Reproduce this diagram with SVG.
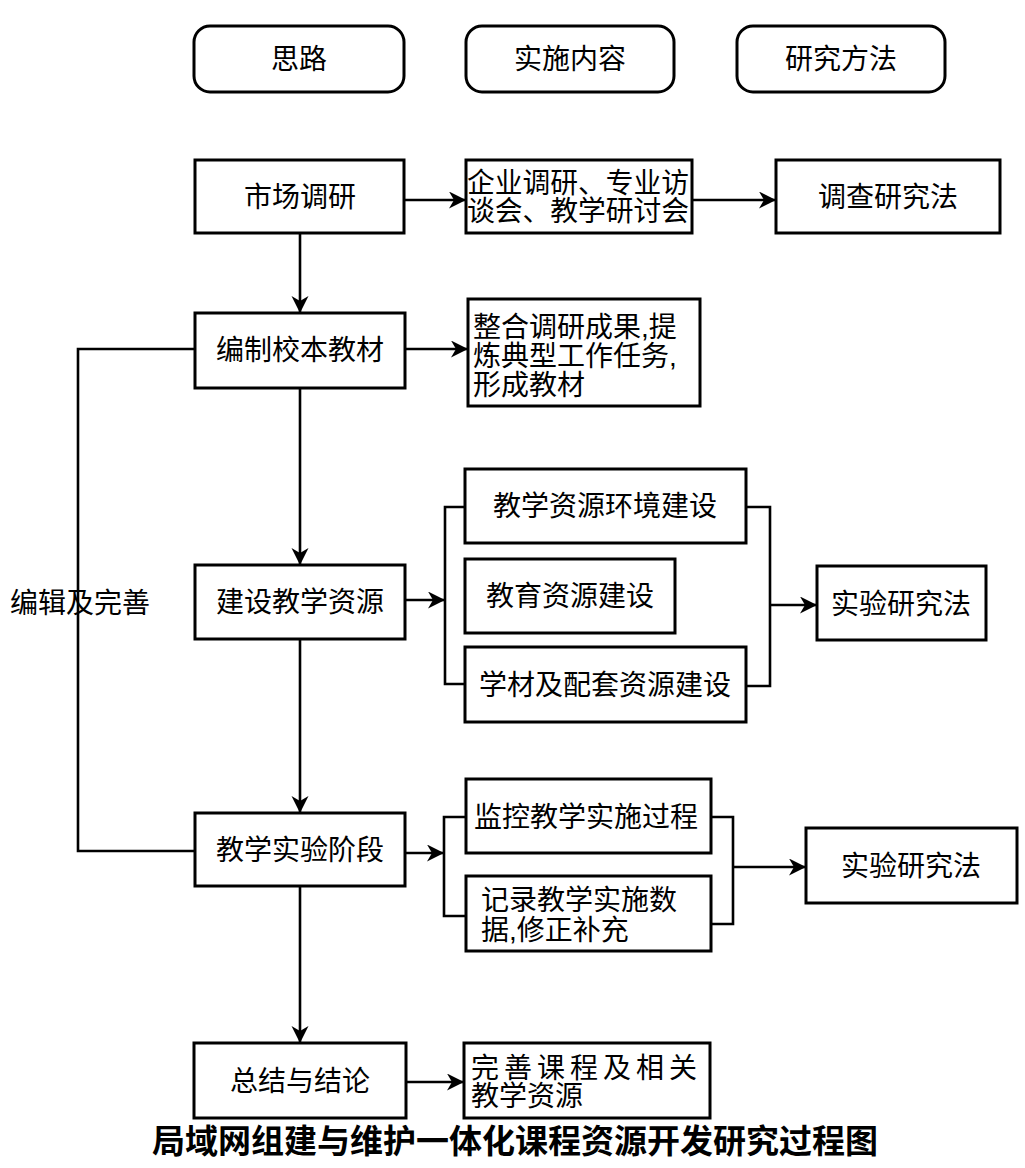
<svg xmlns="http://www.w3.org/2000/svg" width="1025" height="1168" viewBox="0 0 1025 1168">
<style>
.box{fill:#fff;stroke:#000;stroke-width:3}
.t{font-family:"Liberation Sans","Noto Sans CJK SC",sans-serif;font-size:28px;fill:#000}
.c{text-anchor:middle;dominant-baseline:central}
.l{dominant-baseline:central}
.ln{fill:none;stroke:#000;stroke-width:2.6}
.title{font-family:"Liberation Sans","Noto Sans CJK SC",sans-serif;font-size:33px;font-weight:bold;text-anchor:middle;dominant-baseline:central}
</style>
<defs>
<marker id="arr" markerUnits="userSpaceOnUse" markerWidth="20" markerHeight="20" refX="17" refY="8.5" orient="auto">
<path d="M0,0 L17,8.5 L0,17 L5,8.5 z" fill="#000"/>
</marker>
</defs>
<rect width="1025" height="1168" fill="#fff"/>
<g id="connectors">
<line class="ln" x1="300" y1="233" x2="300" y2="313" marker-end="url(#arr)"/>
<line class="ln" x1="404" y1="200" x2="466" y2="200" marker-end="url(#arr)"/>
<line class="ln" x1="692" y1="200" x2="776" y2="200" marker-end="url(#arr)"/>
<line class="ln" x1="405" y1="349" x2="468" y2="349" marker-end="url(#arr)"/>
<polyline class="ln" points="195,349 78,349 78,851 195,851"/>
<line class="ln" x1="300" y1="388" x2="300" y2="565" marker-end="url(#arr)"/>
<line class="ln" x1="405" y1="600" x2="445" y2="600" marker-end="url(#arr)"/>
<polyline class="ln" points="465,507 445,507 445,684 465,684"/>
<polyline class="ln" points="746,507 770,507 770,686 746,686"/>
<line class="ln" x1="770" y1="605" x2="817" y2="605" marker-end="url(#arr)"/>
<line class="ln" x1="300" y1="639" x2="300" y2="813" marker-end="url(#arr)"/>
<line class="ln" x1="405" y1="853" x2="444" y2="853" marker-end="url(#arr)"/>
<polyline class="ln" points="466,817 444,817 444,916 466,916"/>
<polyline class="ln" points="711,817 733,817 733,924 711,924"/>
<line class="ln" x1="733" y1="867" x2="806" y2="867" marker-end="url(#arr)"/>
<line class="ln" x1="300" y1="886" x2="300" y2="1043" marker-end="url(#arr)"/>
<line class="ln" x1="406" y1="1082" x2="464" y2="1082" marker-end="url(#arr)"/>
</g>
<g id="h1"><rect class="box" x="194" y="26" width="210" height="66" rx="16"/><text class="t c" x="299" y="59">思路</text></g>
<g id="h2"><rect class="box" x="466" y="26" width="208" height="66" rx="16"/><text class="t c" x="570" y="59">实施内容</text></g>
<g id="h3"><rect class="box" x="737" y="26" width="208" height="66" rx="16"/><text class="t c" x="841" y="59">研究方法</text></g>
<g id="n1"><rect class="box" x="195" y="160" width="209" height="73"/><text class="t c" x="300" y="197">市场调研</text></g>
<g id="n2"><rect class="box" x="466" y="160" width="226" height="73"/><text class="t l" x="467" y="183" textLength="222" lengthAdjust="spacingAndGlyphs">企业调研、专业访</text><text class="t l" x="467" y="211" textLength="222" lengthAdjust="spacingAndGlyphs">谈会、教学研讨会</text></g>
<g id="n3"><rect class="box" x="776" y="160" width="224" height="73"/><text class="t c" x="888" y="197">调查研究法</text></g>
<g id="n4"><rect class="box" x="195" y="313" width="210" height="75"/><text class="t c" x="300" y="350">编制校本教材</text></g>
<g id="n5"><rect class="box" x="468" y="299" width="232" height="107"/><text class="t l" x="473" y="327">整合调研成果,提</text><text class="t l" x="473" y="356">炼典型工作任务,</text><text class="t l" x="473" y="385">形成教材</text></g>
<g id="n6"><rect class="box" x="195" y="565" width="210" height="74"/><text class="t c" x="300" y="602">建设教学资源</text></g>
<g id="n7"><rect class="box" x="465" y="469" width="281" height="74"/><text class="t c" x="605" y="506">教学资源环境建设</text></g>
<g id="n8"><rect class="box" x="465" y="559" width="210" height="74"/><text class="t c" x="570" y="596">教育资源建设</text></g>
<g id="n9"><rect class="box" x="465" y="647" width="281" height="75"/><text class="t c" x="605" y="685">学材及配套资源建设</text></g>
<g id="n10"><rect class="box" x="817" y="566" width="169" height="74"/><text class="t c" x="901" y="604">实验研究法</text></g>
<g id="n11"><rect class="box" x="195" y="813" width="210" height="73"/><text class="t c" x="300" y="850">教学实验阶段</text></g>
<g id="n12"><rect class="box" x="466" y="779" width="245" height="74"/><text class="t c" x="586" y="817">监控教学实施过程</text></g>
<g id="n13"><rect class="box" x="466" y="876" width="245" height="75"/><text class="t l" x="481" y="900">记录教学实施数</text><text class="t l" x="481" y="930">据,修正补充</text></g>
<g id="n14"><rect class="box" x="806" y="828" width="211" height="75"/><text class="t c" x="911" y="866">实验研究法</text></g>
<g id="n15"><rect class="box" x="194" y="1043" width="212" height="75"/><text class="t c" x="300" y="1081">总结与结论</text></g>
<g id="n16"><rect class="box" x="464" y="1043" width="246" height="75"/><text class="t l" x="471" y="1068" textLength="226" lengthAdjust="spacing">完善课程及相关</text><text class="t l" x="471" y="1096">教学资源</text></g>
<g id="label"><text class="t c" x="80" y="603">编辑及完善</text></g>
<g id="title"><text class="title" x="515" y="1141">局域网组建与维护一体化课程资源开发研究过程图</text></g>
</svg>
